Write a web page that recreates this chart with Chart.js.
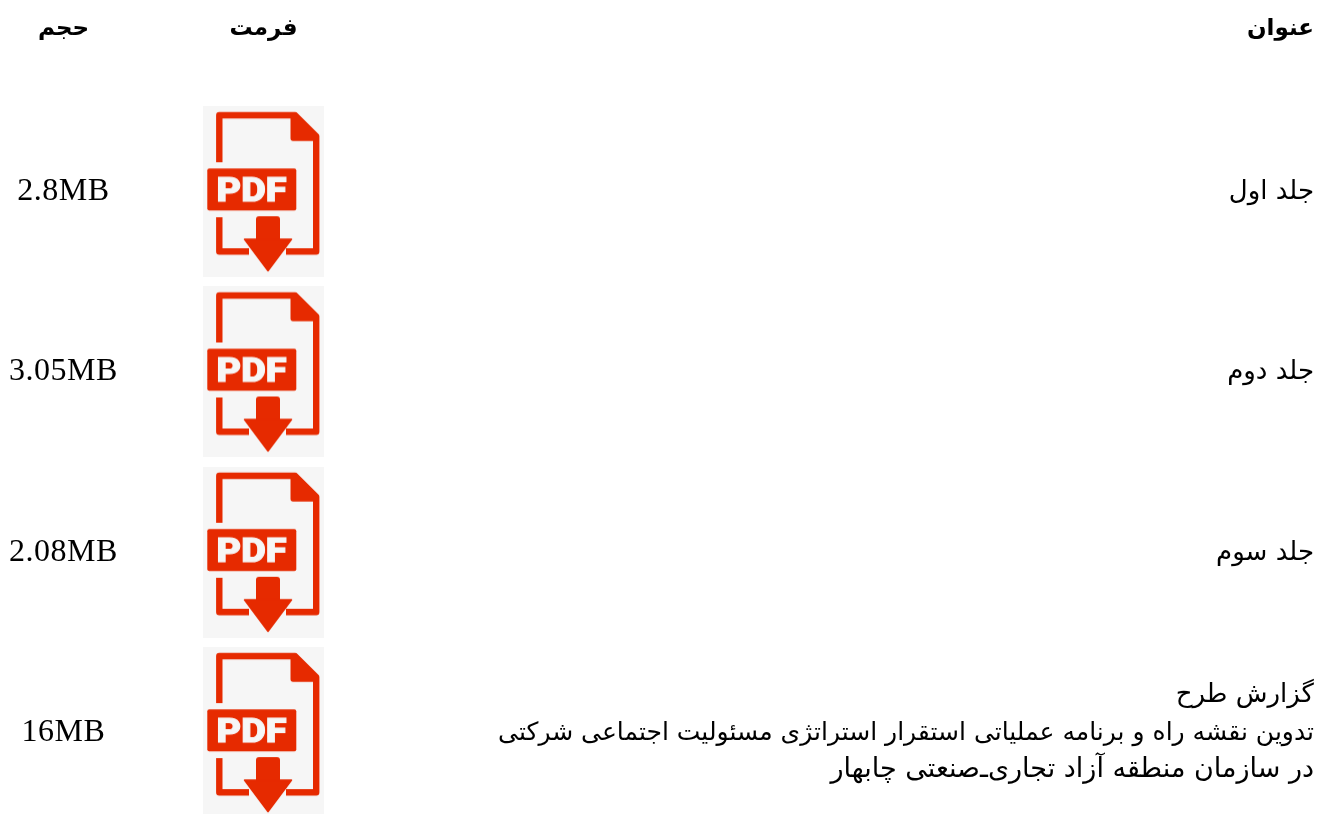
<!DOCTYPE html>
<html lang="fa"><head><meta charset="utf-8">
<style>html,body{margin:0;padding:0;background:#fff;overflow:hidden}canvas{display:block}</style>
<script src="https://cdn.jsdelivr.net/npm/chart.js@4"></script>
</head><body><canvas id="c" width="1324" height="814"></canvas>
<script>
const headers = ["حجم", "فرمت", "عنوان"];
const sizes = ["2.8MB", "3.05MB", "2.08MB", "16MB"];
const titles = [
  ["جلد اول"],
  ["جلد دوم"],
  ["جلد سوم"],
  ["گزارش طرح",
   "تدوین نقشه راه و برنامه عملیاتی استقرار استراتژی مسئولیت اجتماعی شرکتی",
   "در سازمان منطقه آزاد تجاری\u200cـ\u200cصنعتی چابهار"]
];
const rows = [0, 1, 2, 3];

const COL = {size: 63.5, format: 263.5, title: 1314};
const HEADER_ROW = -0.908;
const ARABIC = '"DejaVu Serif","Liberation Serif","DejaVu Sans",serif';
const LATIN = '"Liberation Serif",serif';
const LONG_TITLE_FONT_PX = [26, 25, 27];

function makeIcon(){
  const cv = document.createElement('canvas'); cv.width = 121; cv.height = 171;
  const g = cv.getContext('2d');
  const red = '#e62a00', paper = '#f6f6f6';
  g.fillStyle = paper; g.fillRect(0,0,121,171);
  g.fillStyle = red; g.strokeStyle = red; g.lineJoin = 'round';
  g.lineWidth = 6.4;
  g.beginPath(); g.moveTo(16.3,56); g.lineTo(16.3,9); g.lineTo(92,9); g.lineTo(113.2,30); g.lineTo(113.2,145.2); g.lineTo(83,145.2); g.stroke();
  g.beginPath(); g.moveTo(16.3,111); g.lineTo(16.3,145.2); g.lineTo(46,145.2); g.stroke();
  g.beginPath(); g.moveTo(87.5,9); g.lineTo(93,6); g.lineTo(116,29); g.lineTo(116,34.7); g.lineTo(90,34.7);
  g.quadraticCurveTo(87.5,34.7,87.5,32); g.closePath(); g.fill();
  g.beginPath(); g.roundRect(4.3,62.3,89,42,2); g.fill();
  g.beginPath(); g.roundRect(53,110,24,26,3); g.fill();
  g.beginPath(); g.moveTo(41.5,133); g.lineTo(88.5,133); g.lineTo(65,164.5); g.closePath(); g.lineWidth=1.5; g.fill(); g.stroke();
  g.fillStyle = paper; g.strokeStyle = paper; g.lineWidth = 1; g.lineJoin = 'miter';
  g.font = '900 33px Roboto'; g.textBaseline = 'alphabetic';
  const w = g.measureText('PDF').width;
  g.save(); g.translate(13.5,95); g.scale(70/w,1); g.fillText('PDF',0,0); g.strokeText('PDF',0,0); g.restore();
  return cv;
}
const icon = makeIcon();

const tablePlugin = {
  id: 'tableText',
  afterDatasetsDraw(chart){
    const {ctx, scales:{x,y}} = chart;
    ctx.save();
    ctx.fillStyle = '#000';
    ctx.textBaseline = 'alphabetic';
    ctx.direction = 'rtl';
    ctx.textAlign = 'center';
    ctx.font = 'bold 23px ' + ARABIC;
    const hy = y.getPixelForValue(HEADER_ROW) + 7;
    ctx.fillText(headers[0], x.getPixelForValue(COL.size), hy);
    ctx.fillText(headers[1], x.getPixelForValue(COL.format), hy);
    ctx.textAlign = 'right';
    ctx.fillText(headers[2], x.getPixelForValue(COL.title), hy);
    rows.forEach(r => {
      const cy = y.getPixelForValue(r) - 1.7;
      ctx.direction = 'ltr'; ctx.textAlign = 'center';
      ctx.font = '32px ' + LATIN;
      ctx.letterSpacing = '0.5px';
      ctx.fillText(sizes[r], x.getPixelForValue(COL.size), cy + 10);
      ctx.letterSpacing = '0px';
      ctx.direction = 'rtl'; ctx.textAlign = 'right';
      const lines = titles[r], lh = 37.5;
      lines.forEach((t,i) => {
        ctx.font = (lines.length > 1 ? LONG_TITLE_FONT_PX[i] : 26) + 'px ' + ARABIC;
        ctx.fillText(t, x.getPixelForValue(COL.title), cy + 9 + (i-(lines.length-1)/2)*lh);
      });
    });
    ctx.restore();
  }
};

new Chart(document.getElementById('c'), {
  type: 'scatter',
  data: { datasets: [{
    label: 'فرمت',
    data: rows.map(r => ({x: COL.format, y: r})),
    pointStyle: icon, pointRadius: 60, pointHoverRadius: 60,
    clip: false
  }]},
  options: {
    responsive: false, animation: false, devicePixelRatio: 1,
    layout: {padding: 0, autoPadding: false},
    plugins: {legend: {display: false}, title: {display: false}, tooltip: {enabled: false}},
    scales: {
      x: {type:'linear', display:false, min:0, max:1324},
      y: {type:'linear', display:false, reverse:true, min:-1.0632, max:3.4515}
    }
  },
  plugins: [tablePlugin]
});
</script></body></html>
